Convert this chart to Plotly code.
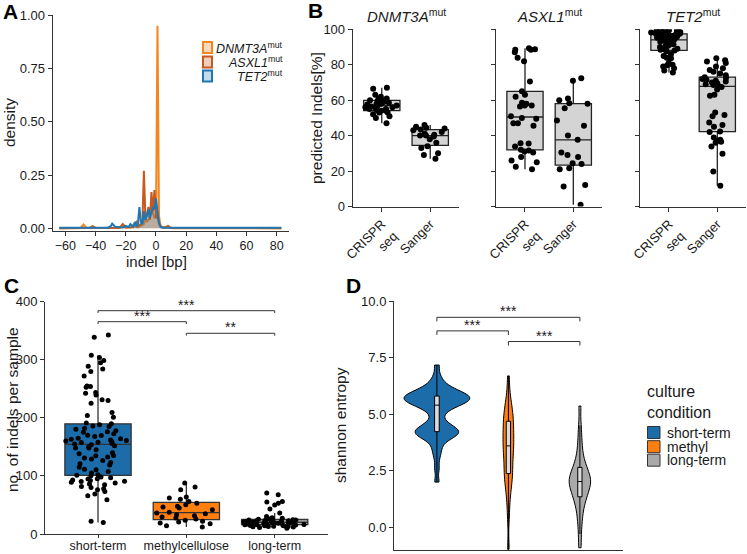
import plotly.graph_objects as go

W, H = 747, 554
def fx(p): return p / W
def fy(p): return 1 - p / H

FONT = "Arial, Liberation Sans, sans-serif"
INK = "#1a1a1a"
AX = "#333333"

# ---------------- Panel A: indel density ----------------
dnmt3a_x = [-64, -50, -48, -46, -24, -22, -20, -16, -14, -12, -8, -7, -6, -5, -4, -3, -2, -1, 0, 1, 2, 3, 5, 8, 9, 11, 83]
dnmt3a_y = [0.001, 0.002, 0.018, 0.002, 0.002, 0.012, 0.003, 0.004, 0.01, 0.004, 0.02, 0.05, 0.03, 0.04, 0.06, 0.11, 0.07, 0.05, 0.05, 0.95, 0.06, 0.01, 0.003, 0.012, 0.002, 0.001, 0.001]
asxl1_x = [-64, -44, -42, -40, -24, -22, -20, -16, -15, -13, -12, -10, -9, -8, -7, -6, -5, -4, -3, -2, -1, 0, 1, 2, 4, 7, 8, 10, 83]
asxl1_y = [0.001, 0.002, 0.01, 0.002, 0.003, 0.02, 0.005, 0.006, 0.015, 0.03, 0.01, 0.02, 0.03, 0.27, 0.05, 0.06, 0.10, 0.04, 0.17, 0.08, 0.18, 0.05, 0.06, 0.02, 0.004, 0.004, 0.01, 0.002, 0.001]
tet2_x = [-64, -32, -30, -29, -27, -24, -22, -20, -18, -17, -15, -14, -13, -12, -11, -10, -9, -8, -7, -6, -5, -4, -3, -2, -1, 0, 1, 2, 3, 5, 83]
tet2_y = [0.003, 0.003, 0.01, 0.022, 0.008, 0.006, 0.004, 0.012, 0.006, 0.02, 0.008, 0.03, 0.012, 0.02, 0.10, 0.03, 0.02, 0.08, 0.04, 0.06, 0.09, 0.05, 0.07, 0.10, 0.09, 0.14, 0.08, 0.03, 0.006, 0.003, 0.003]
A_ticks = [-60, -40, -20, 0, 20, 40, 60, 80]
A_yticks = [0, 0.25, 0.5, 0.75, 1.0]

# ---------------- Panel B: predicted indels ----------------
B_cats = ["CRISPR seq", "Sanger"]
B_ticktext = ["CRISPR<br>seq", "Sanger"]
dnmt3a_crispr = [67, 66.5, 63, 62, 61, 61, 60, 60, 59.5, 59, 58.5, 58, 58, 57.5, 57, 57, 56.5, 56, 56, 55.5, 55, 55, 54.5, 54, 54, 53, 53, 52, 51, 50, 47]
dnmt3a_sanger = [46, 45, 44.5, 44, 43.5, 43, 42, 41, 40.5, 40, 40, 39.5, 38, 36, 34, 33, 30, 29, 27]
asxl1_crispr = [89.3, 88.7, 88.5, 88.5, 87, 84, 82, 70.5, 65, 63, 62, 58.6, 58, 57, 57, 56.4, 50, 49.5, 51, 47, 47, 45.5, 35.7, 35.5, 33.8, 32, 31.6, 31, 30.5, 28, 26, 25, 22.5, 21]
asxl1_sanger = [72.4, 71, 61, 60, 58.3, 58, 55.5, 48.5, 45.5, 40, 37.6, 30.5, 29, 28, 24.4, 24, 21.6, 21, 12.2, 11.3, 1]
tet2_crispr = [99.5, 99.3, 99, 99, 98.8, 98.5, 98.5, 98.2, 98, 98, 97.8, 97.5, 97.5, 97.2, 97, 96.8, 96.5, 96.2, 96, 95.8, 95.5, 95.2, 95, 94.5, 94.2, 94, 93.5, 93, 92.5, 92, 91.5, 91, 90.5, 90, 89.5, 89, 88.8, 88.5, 88, 87.5, 86, 85, 84, 83.6, 81, 80, 79.7, 79, 78, 76.7, 75.6]
tet2_sanger = [83.6, 82.5, 81.8, 81, 79, 78, 77, 76, 75, 74, 73, 72.5, 72, 71.5, 71, 70.5, 70, 69.5, 69, 68.6, 68, 67.5, 66, 63, 62.5, 53, 51.7, 51, 47.4, 46, 45, 42.3, 42, 39, 37.6, 37, 36.5, 36, 33.8, 29.7, 19.7, 11.7]
B_yticks = [0, 20, 40, 60, 80, 100]

# ---------------- Panel C: indels per sample ----------------
C_cats = ["short-term", "methylcellulose", "long-term"]
short_term = [342.7, 338.7, 308, 304, 298.6, 295, 289, 284, 280, 272, 255, 254, 252.7, 243.6, 242.4, 239.5, 231, 229.8, 225, 209, 204, 201,
              191, 189.7, 188, 186, 185, 182, 180.5, 178, 176, 175, 172.5, 170, 169.6, 168, 165, 164, 163, 162, 161, 160, 159, 158, 157.6, 156, 155,
              153.6, 152, 150.7, 148, 147.9, 145, 140, 138, 135, 134.7, 132.4, 130.7, 129, 126.6, 123, 121, 119, 115, 111.7, 110.6, 107.7, 104.9,
              102, 101, 100.3, 98, 97, 95, 94.6, 93, 92.3, 91, 90.5, 89, 87.7, 86, 84.8, 82, 80, 78, 76, 73, 69, 66, 59, 21.8, 20]
methyl = [87.7, 80.8, 76, 63.6, 62, 60, 56, 53, 50.4, 47.6, 46.4, 44.7, 41.8, 37.5, 36.2, 35, 33, 31.5, 29.2, 27.5, 25.8, 23.5, 21.8, 20.6, 19, 17.8, 14.3, 12]
long_term = [70.5, 67.6, 56, 55, 53, 50, 43, 36, 30, 28, 27, 26, 25.5, 25, 25, 24.5, 24, 24, 23.5, 23, 23, 22.5, 22, 22, 21.5, 21, 21, 20.5, 20, 20,
             20, 19.5, 19, 19, 18.5, 18, 18, 17.5, 17, 17, 16.5, 16, 16, 15.5, 15, 15, 14.5, 14, 14, 13.5, 13, 13, 12.5, 12, 11, 10]
C_yticks = [0, 100, 200, 300, 400]
C_brackets = [(0, 2, 384.5, "***"), (0, 1, 365.6, "***"), (1, 2, 345.6, "**")]

# ---------------- Panel D: shannon entropy ----------------
D_cats = ["short-term", "methyl", "long-term"]
ent_short = [5.2, 5.3, 5.35, 5.4, 5.45, 5.5, 5.5, 5.55, 5.6, 5.6, 5.65, 5.7, 5.7, 5.72, 5.75, 5.8, 5.8, 5.85, 5.9, 5.9, 5.95, 6.0, 6.05,
             6.1, 6.2, 6.3, 6.45, 6.7, 7.17, 3.85, 3.95, 4.0, 4.05, 4.1, 4.15, 4.2, 4.22, 4.25, 4.3, 4.35, 4.4, 4.45, 4.55, 4.65,
             2.0, 2.6, 3.1, 3.4, 3.6, 4.85, 5.05]
ent_methyl = [-0.97, 0.5, 1.2, 1.6, 1.9, 2.1, 2.3, 2.4, 2.6, 2.8, 3.0, 3.2, 3.35, 3.5, 3.6, 3.75, 3.9, 4.05, 4.2, 4.35, 4.5, 4.65,
              4.8, 4.95, 5.1, 5.3, 5.5, 5.9, 6.69]
ent_long = [-0.9, -0.3, 0.2, 0.5, 0.8, 1.0, 1.2, 1.3, 1.4, 1.5, 1.6, 1.7, 1.8, 1.9, 1.95, 2.0, 2.05, 2.1, 2.15, 2.2, 2.3, 2.4,
            2.5, 2.6, 2.7, 2.85, 3.0, 3.3, 3.6, 4.0, 4.5, 5.36]
D_yticks = [0, 2.5, 5, 7.5, 10]
D_brackets = [(0, 2, 9.28, "***"), (0, 1, 8.68, "***"), (1, 2, 8.21, "***")]

BLUE = "#1b6ca8"
ORANGE = "#ff7f0e"
GREY_C = "#bebebe"
GREY_D = "#a9a9a9"

fig = go.Figure()

# ---- A traces
A_series = [
    ("DNMT3A", dnmt3a_x, dnmt3a_y, "#f5861f", "rgba(245,134,31,0.25)", "#fbd9bd"),
    ("ASXL1", asxl1_x, asxl1_y, "#c9581c", "rgba(201,88,28,0.25)", "#eccfbd"),
    ("TET2", tet2_x, tet2_y, "#1f77b4", "rgba(31,119,180,0.25)", "#c6dbea"),
]
for name, xs, ys, lc, fc, _ in A_series:
    fig.add_trace(go.Scatter(x=xs, y=ys, mode="lines", line=dict(color=lc, width=2),
                             fill="tozeroy", fillcolor=fc, name=name, showlegend=False,
                             xaxis="x", yaxis="y"))

# ---- B traces
B_sets = [(dnmt3a_crispr, dnmt3a_sanger, "x2", "y2"),
          (asxl1_crispr, asxl1_sanger, "x3", "y3"),
          (tet2_crispr, tet2_sanger, "x4", "y4")]
for crispr, sanger, xa, ya in B_sets:
    for cat, vals in zip(B_cats, [crispr, sanger]):
        fig.add_trace(go.Box(y=vals, x=[cat] * len(vals), boxpoints="all", jitter=1, pointpos=0,
                             fillcolor="#d4d4d4", line=dict(color="#222222", width=1.3),
                             marker=dict(color="black", size=6), whiskerwidth=0, width=0.75,
                             showlegend=False, xaxis=xa, yaxis=ya))

# ---- C traces
for cat, vals, col in zip(C_cats, [short_term, methyl, long_term], [BLUE, ORANGE, GREY_C]):
    fig.add_trace(go.Box(y=vals, x=[cat] * len(vals), boxpoints="all", jitter=1, pointpos=0,
                         fillcolor=col, line=dict(color="#333333", width=1.3),
                         marker=dict(color="black", size=5), whiskerwidth=0, width=0.75,
                         showlegend=False, xaxis="x5", yaxis="y5"))

# ---- D traces
D_spec = [(ent_short, BLUE, 0.92, 0.07, 0.22), (ent_methyl, ORANGE, 0.15, 0.4, 0.45), (ent_long, GREY_D, 0.30, 0.2, 0.35)]
for cat, (vals, col, wdt, bw, bwid) in zip(D_cats, D_spec):
    fig.add_trace(go.Violin(y=vals, x=[cat] * len(vals), fillcolor=col, line=dict(color="black", width=1),
                            points=False, spanmode="hard", bandwidth=bwid, width=wdt, opacity=1,
                            box=dict(visible=True, width=bw, fillcolor="#dcdcdc", line=dict(color="black", width=1)),
                            meanline=dict(visible=False), showlegend=False, xaxis="x6", yaxis="y6"))

def axis_common(**kw):
    d = dict(showline=True, linecolor=AX, linewidth=1, ticks="outside", ticklen=4, tickcolor=AX,
             showgrid=False, zeroline=False, automargin=False,
             tickfont=dict(family=FONT, size=13, color=INK), fixedrange=True)
    d.update(kw)
    return d

shapes = []
annotations = []

def ann(x, y, text, xref="paper", yref="paper", xanchor="center", yanchor="middle", size=13, **kw):
    d = dict(x=x, y=y, xref=xref, yref=yref, text=text, showarrow=False, xanchor=xanchor, yanchor=yanchor,
             font=dict(family=FONT, size=size, color=kw.pop("color", INK)))
    d.update(kw)
    annotations.append(d)

# brackets
def add_brackets(brs, xref, yref, tip, fsize, yshift):
    for a, b, yv, lab in brs:
        shapes.append(dict(type="path", xref=xref, yref=yref,
                           path=f"M {a},{yv - tip} L {a},{yv} L {b},{yv} L {b},{yv - tip}",
                           line=dict(color=AX, width=1)))
        ann((a + b) / 2, yv, lab, xref=xref, yref=yref, yanchor="bottom", size=fsize, yshift=yshift)

add_brackets(C_brackets, "x5", "y5", 4, 14, -4)
add_brackets(D_brackets, "x6", "y6", 0.18, 14, -4)

# A legend
leg_rows = [47.5, 62, 76]
for (name, _, _, lc, _, sw), yc in zip(A_series, leg_rows):
    shapes.append(dict(type="rect", xref="paper", yref="paper", x0=fx(203), x1=fx(212), y0=fy(yc + 5.5), y1=fy(yc - 5.5),
                       line=dict(color=lc, width=2), fillcolor=sw))
    ann(fx(285), fy(yc), f"<i>{name}</i><sup>mut</sup>", xanchor="right", size=12.5)

# D legend
ann(fx(645), fy(402), "culture<br>condition", xanchor="left", size=16, align="left")
for cat, col, yc in zip(["short-term", "methyl", "long-term"], [BLUE, ORANGE, GREY_D], [432.5, 446.7, 460.2]):
    shapes.append(dict(type="rect", xref="paper", yref="paper", x0=fx(647.5), x1=fx(660), y0=fy(yc + 6), y1=fy(yc - 6),
                       line=dict(color="#333333", width=1), fillcolor=col))
    ann(fx(666), fy(yc), cat, xanchor="left", size=14, height=14, valign="middle", borderpad=0)

# B facet headers
for gene, xc in zip(["DNMT3A", "ASXL1", "TET2"], [406, 549, 693]):
    ann(fx(xc), fy(16), f"<i>{gene}</i><sup>mut</sup>", size=15)

# axis titles
titles = [("density", 9, 123, -90, 15.5), ("indel [bp]", 156, 261, 0, 15), ("predicted Indels[%]", 316, 118, -90, 15.5),
          ("no. of indels per sample", 12, 410, -90, 15.5), ("shannon entropy", 340, 425, -90, 15.5)]
for t, xp, yp, ang, fs in titles:
    ann(fx(xp), fy(yp), t, textangle=ang, size=fs)

# panel letters
for t, xp, yp in [("A", 10, 12), ("B", 315, 11), ("C", 11, 285), ("D", 353, 285)]:
    ann(fx(xp), fy(yp), f"<b>{t}</b>", size=21, color="black")

B_ydom = [fy(206.5), fy(29.3)]
fig.update_layout(
    width=W, height=H, margin=dict(l=0, r=0, t=0, b=0, pad=0, autoexpand=False),
    paper_bgcolor="white", plot_bgcolor="white", showlegend=False,
    font=dict(family=FONT, color=INK),
    xaxis=axis_common(domain=[fx(52.7), fx(289.3)], range=[-68.4, 88.3], tickvals=A_ticks, anchor="y",
                      tickfont=dict(family=FONT, size=12.5, color=INK), ticklabelstandoff=-1),
    yaxis=axis_common(domain=[fy(230.7), fy(15)], range=[-0.011, 1.0], tickvals=A_yticks, tickformat=".2f", anchor="x"),
    xaxis2=axis_common(domain=[fx(352.7), fx(459.3)], type="category", categoryarray=B_cats, range=[-0.6, 1.6],
                       tickvals=B_cats, ticktext=B_ticktext, tickangle=-45, anchor="y2"),
    yaxis2=axis_common(domain=B_ydom, range=[0, 100], tickvals=B_yticks, anchor="x2"),
    xaxis3=axis_common(domain=[fx(496), fx(602.3)], type="category", categoryarray=B_cats, range=[-0.6, 1.6],
                       tickvals=B_cats, ticktext=B_ticktext, tickangle=-45, anchor="y3"),
    yaxis3=axis_common(domain=B_ydom, range=[0, 100], tickvals=B_yticks, showticklabels=False, anchor="x3"),
    xaxis4=axis_common(domain=[fx(640), fx(746.3)], type="category", categoryarray=B_cats, range=[-0.6, 1.6],
                       tickvals=B_cats, ticktext=B_ticktext, tickangle=-45, anchor="y4"),
    yaxis4=axis_common(domain=B_ydom, range=[0, 100], tickvals=B_yticks, showticklabels=False, anchor="x4"),
    xaxis5=axis_common(domain=[fx(45), fx(327.7)], type="category", categoryarray=C_cats, range=[-0.6, 2.6], anchor="y5",
                       ticklen=3, tickfont=dict(family=FONT, size=12.5, color=INK), ticklabelstandoff=-3),
    yaxis5=axis_common(domain=[fy(534), fy(301.7)], range=[0, 400], tickvals=C_yticks, anchor="x5"),
    xaxis6=axis_common(domain=[fx(394), fx(622.8)], type="category", categoryarray=D_cats, range=[-0.6, 2.6],
                       showticklabels=False, ticks="", anchor="y6"),
    yaxis6=axis_common(domain=[fy(550), fy(301)], range=[-1.0, 10.0], tickvals=D_yticks, tickformat=".1f", anchor="x6"),
    shapes=shapes, annotations=annotations,
)

fig.write_html("out.html", config={"displayModeBar": False, "staticPlot": True},
               post_script="document.body.style.margin='0px';document.body.style.overflow='hidden';")
